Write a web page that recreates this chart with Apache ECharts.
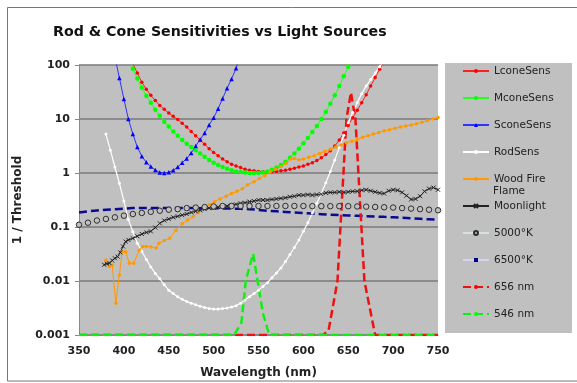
<!DOCTYPE html>
<html><head><meta charset="utf-8">
<script src="https://cdn.jsdelivr.net/npm/echarts@6/dist/echarts.min.js"></script>
<style>html,body{margin:0;padding:0;background:#fff}#c{width:577px;height:383px}</style>
</head><body><div id="c"></div>
<script>
// ---- data (x = wavelength nm, y = 1/threshold) ----
const xTicks = [350, 400, 450, 500, 550, 600, 650, 700, 750];
const yTicks = [0.001, 0.01, 0.1, 1, 10, 100];

const lconeWl = [400,405,410,415,420,425,430,435,440,445,450,455,460,465,470,475,480,485,490,495,500,505,510,515,520,525,530,535,540,545,550,555,560,565,570,575,580,585,590,595,600,605,610,615,620,625,630,635,640,645,650,655,660,665,670,675,680,685,690,695,700];
const lconeVal = [398,200,107,70.8,47.9,35.5,27.5,21.9,17.8,15.1,12.9,11.2,9.77,8.32,7.08,5.89,4.90,4.07,3.39,2.82,2.40,2.09,1.82,1.62,1.45,1.35,1.26,1.17,1.12,1.10,1.07,1.05,1.05,1.05,1.07,1.10,1.12,1.17,1.23,1.29,1.35,1.45,1.55,1.70,1.91,2.19,2.57,3.16,4.07,5.50,7.59,10.5,14.5,20.0,28.2,40.7,58.9,83.2,117,166,234];

const mconeWl = [400,405,410,415,420,425,430,435,440,445,450,455,460,465,470,475,480,485,490,495,500,505,510,515,520,525,530,535,540,545,550,555,560,565,570,575,580,585,590,595,600,605,610,615,620,625,630,635,640,645,650,655,660];
const mconeVal = [316,158,85.1,56.2,38.0,26.9,20.0,14.8,11.5,8.91,7.24,5.89,4.90,4.07,3.47,3.02,2.63,2.29,2.00,1.74,1.55,1.41,1.29,1.20,1.12,1.07,1.05,1.02,1.00,1.00,1.00,1.02,1.07,1.15,1.26,1.41,1.62,1.91,2.29,2.82,3.55,4.47,5.75,7.41,10.0,13.5,19.1,27.5,40.7,61.7,93.3,141,214];

const sconeWl = [385,390,395,400,405,410,415,420,425,430,435,440,445,450,455,460,465,470,475,480,485,490,495,500,505,510,515,520,525,530];
const sconeVal = [398,141,57.5,23.4,10.0,5.25,3.02,2.04,1.58,1.32,1.14,1.02,1.00,1.03,1.12,1.29,1.55,1.86,2.34,3.16,4.17,5.50,7.76,10.5,15.5,24.0,37.2,55.0,87.1,158];

const rodWl = [380,385,390,395,400,405,410,415,420,425,430,435,440,445,450,455,460,465,470,475,480,485,490,495,500,505,510,515,520,525,530,535,540,545,550,555,560,565,570,575,580,585,590,595,600,605,610,615,620,625,630,635,640,645,650,655,660,665,670,675,680,685,690,695];
const rodVal = [5.25,2.63,1.29,0.646,0.302,0.138,0.0813,0.0501,0.0355,0.0251,0.0182,0.0138,0.0110,0.00851,0.00676,0.00589,0.00513,0.00457,0.00417,0.00389,0.00363,0.00339,0.00324,0.00309,0.00302,0.00302,0.00309,0.00316,0.00331,0.00347,0.00389,0.00447,0.00513,0.00589,0.00676,0.00794,0.00933,0.0115,0.0141,0.0174,0.0229,0.0309,0.0417,0.0575,0.0832,0.120,0.182,0.275,0.417,0.661,1.07,1.74,2.95,5.01,8.51,13.2,20.0,29.5,40.7,53.7,70.8,93.3,120,158];

const woodWl = [380,384,387,391,395,398,402,406,411,417,421,425,430,436,439,445,451,458,465,471,477,483,489,495,501,507,514,520,526,532,538,545,551,557,563,569,575,581,586,590,595,600,606,612,618,624,630,636,642,648,654,660,666,672,678,684,690,696,702,708,714,720,726,732,738,744,750];
const woodVal = [0.0245,0.0186,0.0200,0.00389,0.0129,0.0347,0.0347,0.0214,0.0214,0.0372,0.0437,0.0437,0.0427,0.0407,0.0501,0.0562,0.0617,0.0871,0.115,0.135,0.155,0.186,0.219,0.257,0.295,0.331,0.372,0.417,0.457,0.513,0.603,0.692,0.794,0.891,1.05,1.17,1.32,1.51,1.82,1.86,1.74,1.82,1.95,2.09,2.29,2.51,2.75,3.02,3.31,3.63,3.89,4.17,4.57,4.90,5.25,5.62,6.03,6.31,6.76,7.08,7.41,7.76,8.13,8.71,9.33,10.0,10.7];

const moonWl = [378,381,384,387,390,393,396,399,402,405,410,415,420,425,430,435,440,445,450,455,460,465,470,475,480,485,490,495,500,505,510,515,520,525,530,535,540,545,550,555,560,565,570,575,580,585,590,595,600,605,610,615,620,625,630,635,640,645,650,655,660,665,670,675,680,685,690,695,700,705,710,715,720,725,730,735,740,745,750];
const moonVal = [0.0200,0.0209,0.0214,0.0240,0.0263,0.0282,0.0339,0.0437,0.0537,0.0575,0.0617,0.0676,0.0741,0.0794,0.0832,0.0977,0.117,0.132,0.141,0.151,0.158,0.166,0.174,0.186,0.195,0.204,0.214,0.224,0.229,0.234,0.240,0.245,0.251,0.263,0.275,0.282,0.295,0.302,0.316,0.316,0.316,0.324,0.331,0.339,0.347,0.363,0.372,0.389,0.389,0.398,0.389,0.398,0.407,0.427,0.437,0.437,0.447,0.437,0.447,0.457,0.457,0.479,0.490,0.468,0.447,0.427,0.417,0.468,0.490,0.479,0.437,0.380,0.324,0.331,0.372,0.457,0.513,0.537,0.490];

const k5000Wl = [350,360,370,380,390,400,410,420,430,440,450,460,470,480,490,500,510,520,530,540,550,560,570,580,590,600,610,620,630,640,650,660,670,680,690,700,710,720,730,740,750];
const k5000Val = [0.110,0.120,0.132,0.141,0.151,0.162,0.174,0.182,0.191,0.200,0.209,0.214,0.224,0.229,0.234,0.240,0.245,0.245,0.245,0.245,0.245,0.245,0.245,0.245,0.245,0.245,0.243,0.243,0.243,0.243,0.243,0.240,0.238,0.235,0.232,0.229,0.224,0.219,0.214,0.209,0.204];

const k6500Wl = [350,360,370,380,390,400,410,420,430,440,450,460,470,480,490,500,510,520,530,540,550,560,570,580,590,600,610,620,630,640,650,660,670,680,690,700,710,720,730,740,750];
const k6500Val = [0.186,0.195,0.202,0.209,0.214,0.219,0.224,0.224,0.224,0.224,0.224,0.224,0.224,0.224,0.222,0.222,0.221,0.219,0.217,0.214,0.207,0.200,0.195,0.190,0.185,0.181,0.177,0.173,0.169,0.166,0.163,0.161,0.158,0.156,0.154,0.151,0.148,0.145,0.142,0.139,0.136];

const nm656Wl = [350,622,628,638,648,653,658,668,680,750];
const nm656Val = [0.001,0.001,0.0012,0.01,10,31,10,0.01,0.001,0.001];

const nm546Wl = [350,523,531,536,544,546,549,555,562,750];
const nm546Val = [0.001,0.001,0.0017,0.0105,0.032,0.03,0.01,0.0025,0.001,0.001];

// ---- chart ----
const FONT = 'DejaVu Sans';
function pairs(w, v) { return w.map(function (x, i) { return [x, v[i]]; }); }

const chart = echarts.init(document.getElementById('c'), null, { renderer: 'canvas' });

const crossPath = 'path://M0,0L10,10M10,0L0,10';

chart.setOption({
  animation: false,
  backgroundColor: '#ffffff',
  title: {
    text: 'Rod & Cone Sensitivities vs Light Sources',
    left: 53, top: 25, padding: 0,
    textStyle: { fontFamily: FONT, fontSize: 14.2, fontWeight: 'bold', color: '#111' }
  },
  grid: { left: 79, top: 65, width: 359, height: 270, show: true, backgroundColor: '#c0c0c0', borderWidth: 0, containLabel: false, outerBoundsMode: 'none' },
  xAxis: {
    type: 'value', min: xTicks[0], max: xTicks[xTicks.length - 1], interval: 50,
    name: 'Wavelength (nm)', nameLocation: 'middle', nameGap: 32,
    nameTextStyle: { fontFamily: FONT, fontSize: 12, fontWeight: 'bold', color: '#222' },
    axisLine: { show: true, lineStyle: { color: '#888', width: 1 } },
    axisTick: { show: false },
    splitLine: { show: false },
    axisLabel: { margin: 11, fontFamily: FONT, fontSize: 11, fontWeight: 'bold', color: '#222',
      formatter: function (v) { return xTicks.indexOf(v) >= 0 ? String(v) : ''; } }
  },
  yAxis: {
    type: 'log', logBase: 10, min: yTicks[0], max: yTicks[yTicks.length - 1],
    name: '1 / Threshold', nameLocation: 'middle', nameGap: 51, nameRotate: 90,
    nameTextStyle: { fontFamily: FONT, fontSize: 12, fontWeight: 'bold', color: '#222' },
    axisLine: { show: true, lineStyle: { color: '#888', width: 1 } },
    axisTick: { show: true, length: 4, inside: false, lineStyle: { color: '#888' } },
    splitLine: { show: true, lineStyle: { color: '#7a7a7a', width: 1.6 } },
    minorTick: { show: false }, minorSplitLine: { show: false },
    axisLabel: { margin: 9, fontFamily: FONT, fontSize: 11, fontWeight: 'bold', color: '#222',
      formatter: function (v) { return String(parseFloat(Number(v).toPrecision(6))); } }
  },
  legend: {
    orient: 'vertical', left: 462, top: 64.5, padding: 0, itemGap: 14,
    itemWidth: 26, itemHeight: 5,
    textStyle: { fontFamily: FONT, fontSize: 10.5, color: '#222', lineHeight: 13 },
    formatter: function (n) { return n === 'Wood Fire Flame' ? 'Wood Fire' : n; },
    data: [
      'LconeSens', 'MconeSens', 'SconeSens', 'RodSens', 'Wood Fire Flame', 'Moonlight',
      { name: '5000°K', lineStyle: { color: '#dcf0dc', width: 1.5, opacity: 1, type: 'solid' } },
      { name: '6500°K', lineStyle: { color: '#dcdcff', width: 1.5, opacity: 1, type: 'solid' } },
      '656 nm', '546 nm'
    ]
  },
  graphic: [
    { type: 'rect', z: -10, shape: { x: 7.5, y: 7.5, width: 620, height: 373.5 }, style: { fill: 'none', stroke: '#777', lineWidth: 1 } },
    { type: 'rect', z: -5, shape: { x: 445, y: 63, width: 127, height: 270 }, style: { fill: '#c0c0c0' } },
    { type: 'text', z: 10, x: 493, y: 191, style: { text: 'Flame', fontFamily: FONT, fontSize: 10.5, fill: '#222', verticalAlign: 'middle' } }
  ],
  series: [
    { name: 'LconeSens', type: 'line', data: pairs(lconeWl, lconeVal), clip: true,
      symbol: 'circle', symbolSize: 3.5, itemStyle: { color: '#ff0000' }, lineStyle: { color: '#ff2020', width: 1 } },
    { name: 'MconeSens', type: 'line', data: pairs(mconeWl, mconeVal), clip: true,
      symbol: 'circle', symbolSize: 4.5, itemStyle: { color: '#00ff00' }, lineStyle: { color: '#20ff20', width: 1 } },
    { name: 'SconeSens', type: 'line', data: pairs(sconeWl, sconeVal), clip: true,
      symbol: 'triangle', symbolSize: 4.5, itemStyle: { color: '#0000ff' }, lineStyle: { color: '#3030ff', width: 1 } },
    { name: 'RodSens', type: 'line', data: pairs(rodWl, rodVal), clip: true,
      symbol: 'circle', symbolSize: 3, itemStyle: { color: '#ffffff' }, lineStyle: { color: '#ffffff', width: 1.2 } },
    { name: 'Wood Fire Flame', type: 'line', data: pairs(woodWl, woodVal), clip: true,
      symbol: 'circle', symbolSize: 3.5, itemStyle: { color: '#ff9900' }, lineStyle: { color: '#ff9900', width: 1 } },
    { name: 'Moonlight', type: 'line', data: pairs(moonWl, moonVal), clip: true,
      symbol: crossPath, symbolSize: 4, itemStyle: { color: '#222', borderColor: '#222', borderWidth: 1 }, lineStyle: { color: '#222', width: 1 } },
    { name: '5000°K', type: 'line', data: pairs(k5000Wl, k5000Val), clip: true,
      symbol: 'circle', symbolSize: 5.5, itemStyle: { color: '#c0c0c0', borderColor: '#2e2e2e', borderWidth: 1 }, lineStyle: { opacity: 0 } },
    { name: '6500°K', type: 'line', data: pairs(k6500Wl, k6500Val), clip: true,
      symbol: 'rect', showSymbol: false, itemStyle: { color: '#000080' }, lineStyle: { color: '#0a0a90', width: 2.5, type: [8, 4] } },
    { name: '656 nm', type: 'line', data: pairs(nm656Wl, nm656Val), clip: true,
      symbol: 'none', itemStyle: { color: '#ff0000' }, lineStyle: { color: '#ee1111', width: 2.5, type: [8, 4] } },
    { name: '546 nm', type: 'line', data: pairs(nm546Wl, nm546Val), clip: true,
      symbol: 'none', itemStyle: { color: '#00ff00' }, lineStyle: { color: '#11ee11', width: 2.5, type: [8, 4] } }
  ]
});
</script></body></html>
